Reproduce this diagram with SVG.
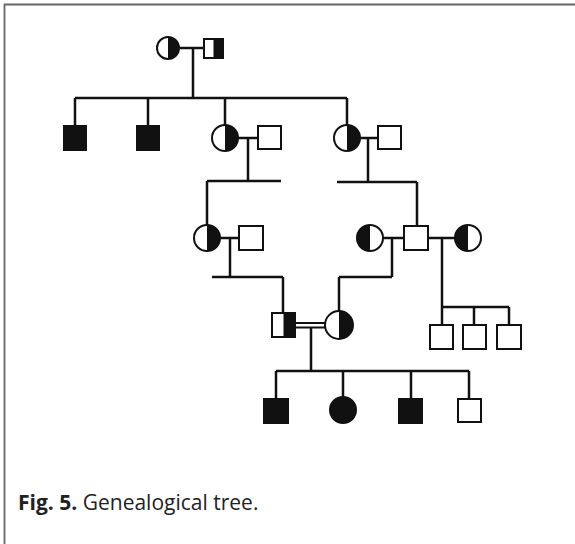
<svg xmlns="http://www.w3.org/2000/svg" width="575" height="544" viewBox="0 0 575 544">
<style>
.ln{stroke:#111;stroke-width:2.5;fill:none}
.sq{fill:#fff;stroke:#111;stroke-width:2}
.ci{fill:#fff;stroke:#111;stroke-width:2}
.fill{fill:#111;stroke:#111;stroke-width:2}
.half{fill:#111;stroke:none}
.cap{font-family:"Open Sans","Liberation Sans",sans-serif;font-size:21px;fill:#222}
</style>
<rect x="0" y="0" width="575" height="544" fill="#fff"/>
<path d="M4.5 544 V4.5 H575" stroke="#666" stroke-width="1.8" fill="none"/>
<g id="connectors">
<path class="ln" d="M180 48 H204 M193 48 V98 M75 98 H347 M75 98 V126 M148 98 V126 M225 98 V125 M347 98 V125"/>
<path class="ln" d="M238 138 H258 M248 138 V181 M207 181 H281 M207 181 V225"/>
<path class="ln" d="M360 138 H378 M368 138 V182 M337 182 H417 M417 182 V226"/>
<path class="ln" d="M220 238 H239 M230 238 V277 M212 277 H283 M283 277 V313"/>
<path class="ln" d="M383 238 H404 M392 238 V277 M339 277 H392 M339 277 V311"/>
<path class="ln" d="M428 238 H455 M442 238 V307 M442 307 H509 M442 307 V325 M474 307 V325 M509 307 V325"/>
<path d="M295 323 H325 M295 327.5 H325" stroke="#111" stroke-width="2" fill="none"/>
<path class="ln" d="M311 327 V371 M276 371 H469 M276 371 V399 M343 371 V397 M411 371 V399 M469 371 V399"/>
</g>
<g id="n1"><circle class="ci" cx="168" cy="48" r="11"/><path class="half" d="M168 37 A11 11 0 0 1 168 59 Z"/></g>
<g id="n2"><rect class="sq" x="204" y="39" width="19" height="19"/><rect class="half" x="213.5" y="39" width="9.5" height="19"/></g>
<g id="n3"><rect class="fill" x="64" y="126" width="22" height="24"/></g>
<g id="n4"><rect class="fill" x="137" y="126" width="22" height="24"/></g>
<g id="n5"><circle class="ci" cx="225" cy="138" r="13"/><path class="half" d="M225 125 A13 13 0 0 1 225 151 Z"/></g>
<g id="n6"><rect class="sq" x="258" y="126" width="23" height="23"/></g>
<g id="n7"><circle class="ci" cx="347" cy="138" r="13"/><path class="half" d="M347 125 A13 13 0 0 1 347 151 Z"/></g>
<g id="n8"><rect class="sq" x="378" y="126" width="23" height="23"/></g>
<g id="n9"><circle class="ci" cx="207" cy="238" r="13"/><path class="half" d="M207 225 A13 13 0 0 1 207 251 Z"/></g>
<g id="n10"><rect class="sq" x="239" y="226" width="24" height="24"/></g>
<g id="n11"><circle class="ci" cx="370" cy="238" r="13"/><path class="half" d="M370 225 A13 13 0 0 0 370 251 Z"/></g>
<g id="n12"><rect class="sq" x="404" y="226" width="24" height="24"/></g>
<g id="n13"><circle class="ci" cx="468" cy="238" r="13"/><path class="half" d="M468 225 A13 13 0 0 0 468 251 Z"/></g>
<g id="n14"><rect class="sq" x="272" y="313" width="23" height="24"/><rect class="half" x="283.5" y="313" width="11.5" height="24"/></g>
<g id="n15"><circle class="ci" cx="339" cy="325" r="14"/><path class="half" d="M339 311 A14 14 0 0 1 339 339 Z"/></g>
<g id="n16"><rect class="sq" x="430" y="325" width="23" height="24"/></g>
<g id="n17"><rect class="sq" x="463" y="325" width="23" height="24"/></g>
<g id="n18"><rect class="sq" x="497" y="325" width="24" height="24"/></g>
<g id="n19"><rect class="fill" x="264" y="399" width="24" height="24"/></g>
<g id="n20"><circle class="fill" cx="343" cy="410" r="13"/></g>
<g id="n21"><rect class="fill" x="399" y="399" width="23" height="24"/></g>
<g id="n22"><rect class="sq" x="458" y="399" width="23" height="23"/></g>
<text class="cap" x="18" y="510"><tspan font-weight="bold">Fig. 5.</tspan> Genealogical tree.</text>
</svg>
